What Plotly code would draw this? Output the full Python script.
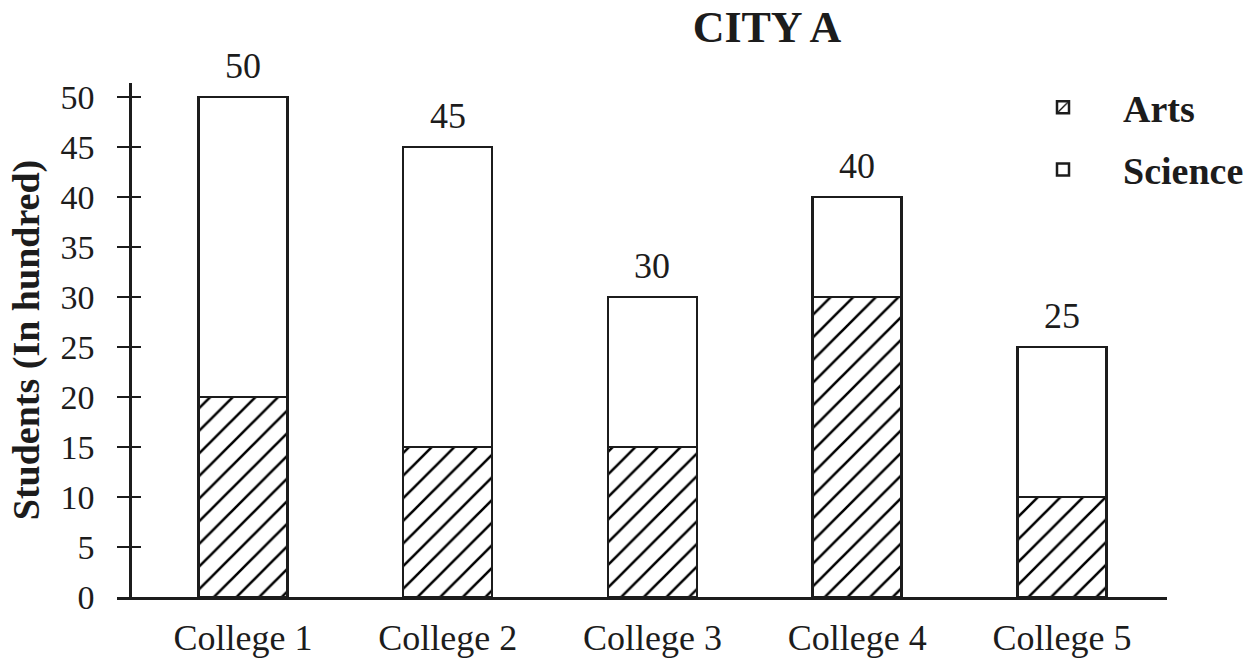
import plotly.graph_objects as go

colleges = ["College 1", "College 2", "College 3", "College 4", "College 5"]
arts = [20, 15, 15, 30, 10]
science = [30, 30, 15, 10, 15]
totals = [50, 45, 30, 40, 25]
y_ticks = [0, 5, 10, 15, 20, 25, 30, 35, 40, 45, 50]

FONT = "Liberation Serif"
INK = "#1c1c1c"

fig = go.Figure()
fig.add_trace(go.Bar(
    x=colleges, y=arts, name="Arts", width=0.435, legendgroup="arts",
    marker=dict(color="white", line=dict(color=INK, width=2.5),
                pattern=dict(shape="/", fgcolor="#000000", fgopacity=1, bgcolor="white",
                             size=16, solidity=0.16)),
))
fig.add_trace(go.Bar(
    x=colleges, y=science, name="Science", width=0.435, legendgroup="science",
    marker=dict(color="white", line=dict(color=INK, width=2.5)),
))

for c, t in zip(colleges, totals):
    fig.add_annotation(x=c, y=t, text=str(t), showarrow=False, yanchor="middle", yshift=31,
                       font=dict(family=FONT, size=36, color=INK))

L, R, T, B = 117, 81, 83, 65
W, H = 1248, 662
ypos = (130 - L) / (W - L - R)

fig.update_layout(
    width=W, height=H,
    margin=dict(l=L, r=R, t=T, b=B, autoexpand=False),
    paper_bgcolor="white", plot_bgcolor="white",
    barmode="stack",
    font=dict(family=FONT, color=INK, size=34),
    title=dict(text="<b>CITY A</b>", x=767 / W, xanchor="center", y=1 - 27 / H, yanchor="middle",
               font=dict(family=FONT, size=44, color=INK)),
    showlegend=True,
    legend=dict(x=1003 / W, xref="container", y=1 - 76 / H, yref="container", xanchor="left", yanchor="top",
                font=dict(family=FONT, size=38, color=INK, weight="bold"),
                bgcolor="rgba(0,0,0,0)", itemwidth=110, traceorder="grouped", tracegroupgap=10),
    xaxis=dict(range=[-0.615, 4.513], showline=True, linecolor=INK, linewidth=2.5,
               ticks="", showgrid=False, zeroline=False,
               tickfont=dict(family=FONT, size=36, color=INK), ticklabelstandoff=7),
    yaxis=dict(range=[0, 51.4], anchor="free", position=ypos, showline=True, linecolor=INK, linewidth=2.5,
               tickvals=y_ticks, ticks="",
               showgrid=False, zeroline=False,
               tickfont=dict(family=FONT, size=34, color=INK), ticklabelstandoff=28,
               title=dict(text="<b>Students (In hundred)</b>", font=dict(family=FONT, size=38, color=INK),
                          standoff=8)),
    # overlaid axis at the left edge of the plot area draws the tick marks crossing the y axis line
    yaxis2=dict(range=[0, 51.4], overlaying="y", anchor="x", side="left",
                tickvals=y_ticks, ticks="inside", ticklen=24, tickwidth=2.2, tickcolor=INK,
                showticklabels=False, showgrid=False, zeroline=False, showline=False),
)
fig.add_trace(go.Scatter(x=[colleges[0]], y=[0], yaxis="y2", mode="markers",
                         marker=dict(opacity=0), showlegend=False, hoverinfo="skip"))

fig.write_html("out.html", config={"displayModeBar": False},
               post_script="document.body.style.margin='0';")
